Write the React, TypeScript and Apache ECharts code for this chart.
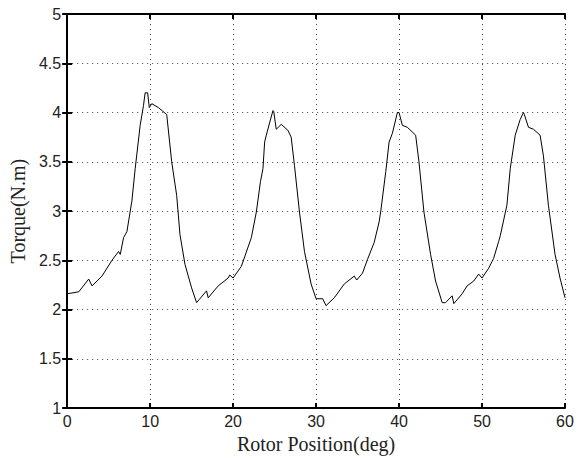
import React, { useEffect, useRef } from "react";
import * as echarts from "echarts";

const positions = [
  0, 1.4, 2.6, 3.0, 4.2, 5.4, 6.2, 6.4, 6.8, 7.2, 7.8, 8.2, 8.8, 9.2, 9.4, 9.7, 9.9, 10.2, 11.0, 12.0,
  12.6, 13.2, 13.6, 14.2, 15.0, 15.6, 15.9, 16.8, 17.0, 18.2, 19.4, 19.6, 20.0, 21.0, 22.2, 22.8, 23.3,
  23.6, 23.8, 24.0, 24.8, 24.9, 25.2, 25.8, 26.6, 27.0, 27.4, 28.0, 28.6, 29.4, 30.0, 30.8, 31.2, 32.2,
  33.4, 34.6, 34.9, 35.6, 36.2, 37.0, 37.6, 37.8, 38.4, 38.8, 39.2, 39.8, 40.0, 40.4, 41.0, 42.0, 42.4,
  43.0, 43.8, 44.4, 45.2, 45.6, 46.4, 46.6, 47.6, 48.2, 49.0, 49.6, 50.0, 50.8, 51.4, 52.0, 52.2, 53.0,
  53.4, 54.0, 54.6, 55.0, 55.1, 55.6, 56.2, 57.0, 57.4, 58.0, 58.8, 59.4, 60.0,
];
const torque = [
  2.16, 2.18, 2.31, 2.24, 2.34, 2.5, 2.59, 2.56, 2.73, 2.79, 3.1, 3.43, 3.87, 4.07, 4.2, 4.2, 4.05, 4.09, 4.05, 3.98,
  3.5, 3.16, 2.76, 2.46, 2.22, 2.07, 2.1, 2.19, 2.12, 2.24, 2.32, 2.35, 2.32, 2.44, 2.73, 2.99, 3.3,
  3.43, 3.7, 3.77, 4.02, 4.01, 3.83, 3.88, 3.82, 3.75, 3.46, 2.99, 2.59, 2.26, 2.11, 2.11, 2.04, 2.12,
  2.26, 2.34, 2.3, 2.37, 2.51, 2.68, 2.89, 3.0, 3.4, 3.7, 3.79, 4.0, 4.0, 3.87, 3.85, 3.77, 3.5,
  2.99, 2.56, 2.29, 2.07, 2.07, 2.14, 2.06, 2.16, 2.24, 2.29, 2.36, 2.32, 2.42, 2.52, 2.69, 2.75, 3.06,
  3.43, 3.77, 3.93, 4.0, 3.98, 3.85, 3.83, 3.77, 3.56, 3.06, 2.56, 2.32, 2.12,
];

const xTitle = "Rotor Position(deg)";
const yTitle = "Torque(N.m)";

export default function App() {
  const ref = useRef<HTMLDivElement>(null);
  useEffect(() => {
    if (!ref.current) return;
    const chart = echarts.init(ref.current, undefined, { renderer: "svg" });
    const tickFont = { fontFamily: "Liberation Sans", fontSize: 16, color: "#222" };
    const splitLine = { show: true, lineStyle: { type: [1, 4] as any, color: "#444", width: 1 } };
    const axisLine = { show: true, lineStyle: { color: "#000", width: 2 } };
    const axisTick = { show: true, inside: true, length: 5, lineStyle: { color: "#000", width: 2 } };
    const nameStyle = { fontFamily: "Liberation Serif", fontSize: 20, color: "#222" };
    chart.setOption({
      animation: false,
      backgroundColor: "#fff",
      grid: { left: 65, right: 13, top: 14, bottom: 48, containLabel: false },
      xAxis: [
        {
          type: "value", min: 0, max: 60, interval: 10,
          name: xTitle, nameLocation: "middle", nameGap: 21,
          nameTextStyle: nameStyle,
          axisLine, axisTick, splitLine,
          axisLabel: { ...tickFont, margin: 5 },
        },
        {
          type: "value", min: 0, max: 60, interval: 10, position: "top",
          axisLine, axisTick, splitLine: { show: false }, axisLabel: { show: false },
        },
      ],
      yAxis: [
        {
          type: "value", min: 1, max: 5, interval: 0.5,
          name: yTitle, nameLocation: "middle", nameGap: 37,
          nameTextStyle: nameStyle,
          axisLine, axisTick, splitLine,
          axisLabel: { ...tickFont, margin: 6 },
        },
        {
          type: "value", min: 1, max: 5, interval: 0.5, position: "right",
          axisLine, axisTick, splitLine: { show: false }, axisLabel: { show: false },
        },
      ],
      series: [
        {
          type: "line",
          data: positions.map((p, i) => [p, torque[i]]),
          showSymbol: false,
          lineStyle: { color: "#000", width: 1 },
        },
      ],
    });
    return () => chart.dispose();
  }, []);
  return <div ref={ref} style={{ width: 578, height: 459, position: "absolute", left: 0, top: 0 }} />;
}
